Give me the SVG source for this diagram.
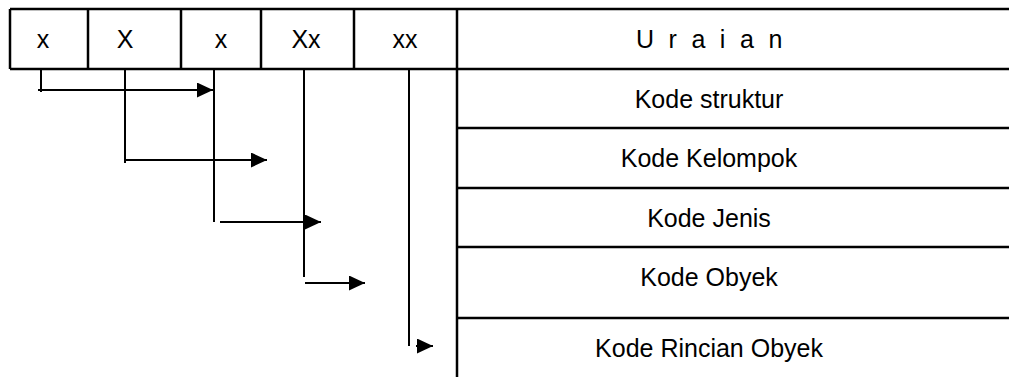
<svg xmlns="http://www.w3.org/2000/svg" width="1009" height="377" viewBox="0 0 1009 377">
<defs>
<style>
.t{font-family:"Liberation Sans",Arial,sans-serif;font-size:25px;fill:#000;text-anchor:middle}
.b{stroke:#000;stroke-width:2.5;fill:none}
.c{stroke:#000;stroke-width:2;fill:none}
</style>
<marker id="ah" markerUnits="userSpaceOnUse" markerWidth="17" markerHeight="15" refX="16" refY="7.5" orient="auto">
<path d="M0,0 L16,7.5 L0,15 Z" fill="#000"/>
</marker>
</defs>
<rect width="1009" height="377" fill="#fff"/>
<g id="header">
<line class="b" x1="10" y1="9" x2="1009" y2="9"/>
<line class="b" x1="10" y1="69" x2="1009" y2="69"/>
<line class="b" x1="10" y1="9" x2="10" y2="69"/>
<line class="b" x1="88" y1="9" x2="88" y2="69"/>
<line class="b" x1="181" y1="9" x2="181" y2="69"/>
<line class="b" x1="261" y1="9" x2="261" y2="69"/>
<line class="b" x1="354" y1="9" x2="354" y2="69"/>
<line class="b" x1="457" y1="9" x2="457" y2="377"/>
<text class="t" x="43" y="48">x</text>
<text class="t" x="125" y="48">X</text>
<text class="t" x="221" y="48">x</text>
<text class="t" x="306" y="48">Xx</text>
<text class="t" x="405" y="48">xx</text>
<text class="t" x="711" y="48" letter-spacing="3.8">U r a i a n</text>
</g>
<g id="row-struktur">
<line class="b" x1="457" y1="128" x2="1009" y2="128"/>
<text class="t" x="709" y="108">Kode struktur</text>
</g>
<g id="row-kelompok">
<line class="b" x1="457" y1="188" x2="1009" y2="188"/>
<text class="t" x="709" y="167">Kode Kelompok</text>
</g>
<g id="row-jenis">
<line class="b" x1="457" y1="247" x2="1009" y2="247"/>
<text class="t" x="709" y="227">Kode Jenis</text>
</g>
<g id="row-obyek">
<line class="b" x1="457" y1="318" x2="1009" y2="318"/>
<text class="t" x="709" y="286">Kode Obyek</text>
</g>
<g id="row-rincian">
<text class="t" x="709" y="357">Kode Rincian Obyek</text>
</g>
<g id="connectors">
<line class="c" x1="41" y1="69" x2="41" y2="92"/>
<line class="c" x1="38" y1="90" x2="213" y2="90" marker-end="url(#ah)"/>
<line class="c" x1="125" y1="69" x2="125" y2="163"/>
<line class="c" x1="125" y1="160" x2="267" y2="160" marker-end="url(#ah)"/>
<line class="c" x1="214" y1="69" x2="214" y2="222"/>
<line class="c" x1="220" y1="222" x2="321" y2="222" marker-end="url(#ah)"/>
<line class="c" x1="304" y1="69" x2="304" y2="277"/>
<line class="c" x1="305" y1="283" x2="365" y2="283" marker-end="url(#ah)"/>
<line class="c" x1="409" y1="69" x2="409" y2="346"/>
<line class="c" x1="416" y1="346" x2="433" y2="346" marker-end="url(#ah)"/>
</g>
</svg>
